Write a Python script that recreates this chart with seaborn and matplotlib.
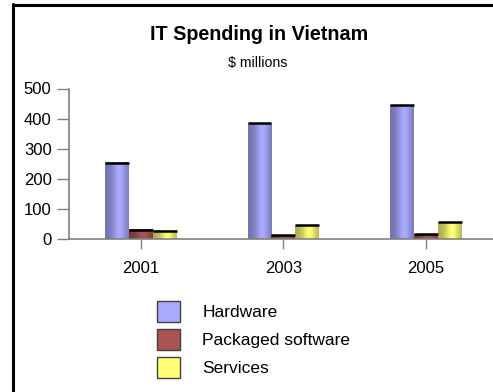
import numpy as np
import pandas as pd
import matplotlib
matplotlib.use("Agg")
import matplotlib.pyplot as plt
import seaborn as sns
from matplotlib.patches import Patch
from matplotlib.lines import Line2D

# IT spending in Vietnam, $ millions
years = ["2001", "2003", "2005"]
hardware = [253, 385, 445]
packaged_software = [30, 13, 16]
services = [28, 45, 55]
series = ["Hardware", "Packaged software", "Services"]
colors = ["#AAAAFF", "#AA5555", "#FFFF77"]

df = pd.DataFrame({
    "Year": years * 3,
    "Category": [s for s in series for _ in years],
    "Spending": hardware + packaged_software + services,
})

sns.set_theme(style="white")
plt.rcParams["font.family"] = ["Liberation Sans", "DejaVu Sans"]
plt.rcParams["text.color"] = "black"

fig = plt.figure(figsize=(4.93, 3.92), dpi=100)
ax = fig.add_axes([69 / 493, 1 - 239 / 392, 1 - 69 / 493, (239 - 88.5) / 392])

sns.barplot(data=df, x="Year", y="Spending", hue="Category", hue_order=series,
            palette=colors, width=0.505, saturation=1, edgecolor="none",
            legend=False, ax=ax)

# cylinder-like shading across each bar plus a dark cap on top
t = np.linspace(0, 1, 48)
shade = 0.68 + 0.32 * np.exp(-((t - 0.6) / 0.3) ** 2)
for bar in list(ax.patches):
    x0, y0 = bar.get_x(), bar.get_y()
    w, h = bar.get_width(), bar.get_height()
    if h <= 0:
        continue
    base = np.array(matplotlib.colors.to_rgb(bar.get_facecolor()))
    img = np.clip(shade[:, None] * base[None, :], 0, 1)[None, :, :]
    ax.imshow(img, extent=[x0, x0 + w, y0, y0 + h], aspect="auto",
              interpolation="bilinear", zorder=bar.get_zorder() + 0.1)
    ax.plot([x0, x0 + w], [y0 + h, y0 + h], color="black", lw=1.8,
            solid_capstyle="butt", zorder=bar.get_zorder() + 0.2)

ax.set_xlim(-0.505, 2.47)
ax.set_ylim(0, 500)
ax.set_yticks([0, 100, 200, 300, 400, 500])
ax.set_xlabel("")
ax.set_ylabel("")
ax.grid(False)
for side in ("top", "right"):
    ax.spines[side].set_visible(False)
for side in ("left", "bottom"):
    ax.spines[side].set_color("#808080")
    ax.spines[side].set_linewidth(1.2)
ax.tick_params(axis="y", direction="out", length=8.5, width=1, color="#808080",
               pad=4, labelsize=12, labelcolor="black", left=True)
ax.tick_params(axis="x", direction="out", length=7.5, width=1, color="#808080",
               pad=8, labelsize=12, labelcolor="black", bottom=True)
ax.set_facecolor("none")

fig.text(259 / 493, 1 - 35 / 392, "IT Spending in Vietnam", ha="center", va="center",
         fontsize=14.2, fontweight="bold", color="black")
fig.text(257.5 / 493, 1 - 63 / 392, r"\$ millions", ha="center", va="center",
         fontsize=10.2, color="black")

handles = [Patch(facecolor=c, edgecolor="#404040", linewidth=1) for c in colors]
fig.legend(handles, series, loc="upper left", bbox_to_anchor=(157 / 493, 1 - 301 / 392),
           frameon=False, fontsize=12.5, handlelength=1.32, handleheight=1.5,
           labelspacing=0.385, handletextpad=1.3, borderpad=0, borderaxespad=0,
           labelcolor="black")

# black frame along the top and left edges
fig.add_artist(Line2D([12.5 / 493, 1], [1 - 5.3 / 392, 1 - 5.3 / 392],
                      transform=fig.transFigure, color="black", lw=2.2))
fig.add_artist(Line2D([12.5 / 493, 12.5 / 493], [0, 1 - 4.2 / 392],
                      transform=fig.transFigure, color="black", lw=2.2))

fig.savefig("out.png", dpi=100)
